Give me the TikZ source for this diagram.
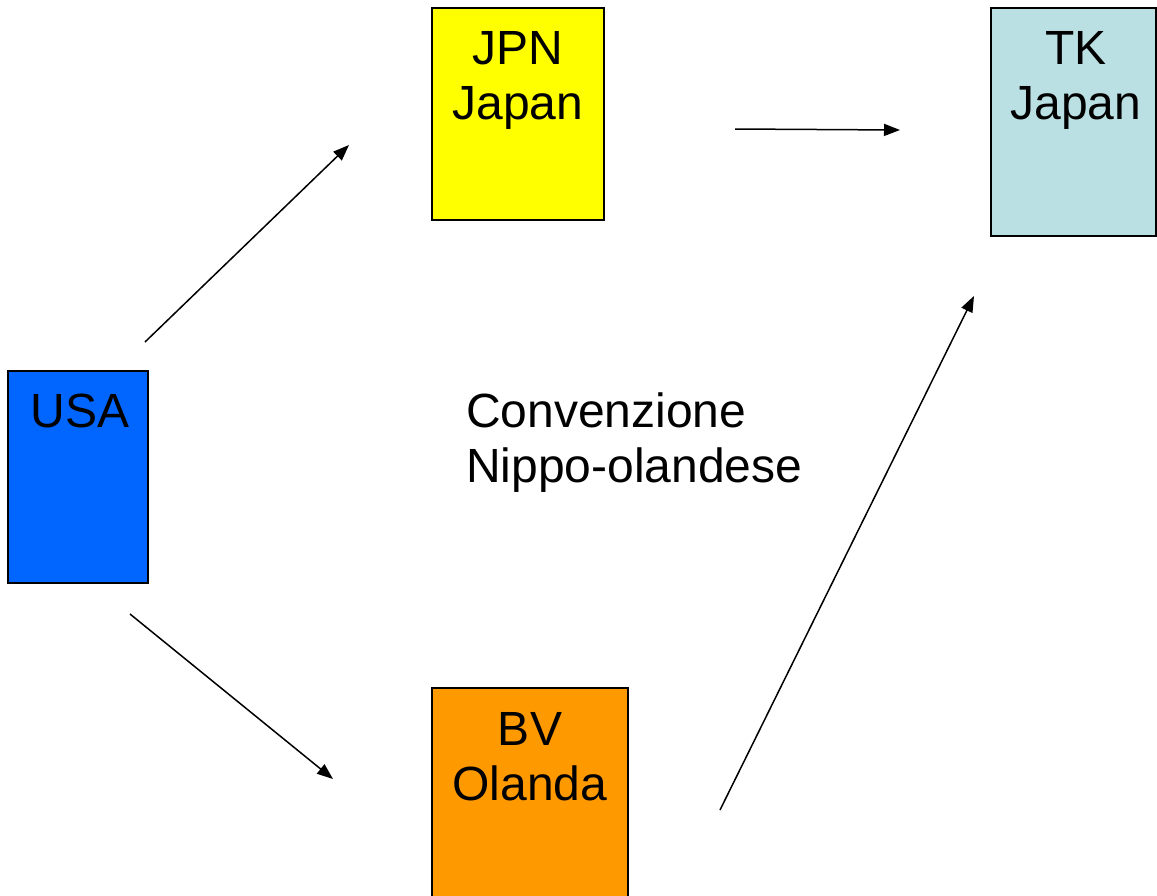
\documentclass[tikz,border=0pt]{standalone}
\usepackage{fontspec}
\setmainfont{Liberation Sans}
\usetikzlibrary{arrows.meta}
\definecolor{jpnyellow}{HTML}{FFFF00}
\definecolor{tkblue}{HTML}{BAE0E4}
\definecolor{usablue}{HTML}{0066FF}
\definecolor{bvorange}{HTML}{FF9900}
\begin{document}
\begin{tikzpicture}[x=1pt,y=-1pt,
  box/.style={draw=black,line width=1.3pt,inner sep=0pt,outer sep=0pt},
  lbl/.style={anchor=base,inner sep=0pt,font=\fontsize{48}{55}\selectfont},
  conn/.style={line width=1.5pt,-{Triangle[length=16pt,width=12pt]}}]
\useasboundingbox (0,0) rectangle (1157,895);
% boxes
\node[box,fill=jpnyellow,minimum width=172pt,minimum height=212pt] (jpn) at (518,114) {};
\node[box,fill=tkblue,minimum width=165pt,minimum height=228pt] (tk) at (1073.5,122) {};
\node[box,fill=usablue,minimum width=140pt,minimum height=212pt] (usa) at (78,477) {};
\node[box,fill=bvorange,minimum width=196pt,minimum height=230pt] (bv) at (530,803) {};
% labels
\node[lbl] (jpn1) at (518,64) {JPN};
\node[lbl] (jpn2) at (518,119) {Japan};
\node[lbl] (tk1) at (1076,64) {TK};
\node[lbl] (tk2) at (1076,119) {Japan};
\node[lbl] (usa1) at (80,427) {USA};
\node[lbl] (bv1) at (530,745) {BV};
\node[lbl] (bv2) at (530,800) {Olanda};
\node[lbl,anchor=base west] (conv1) at (466,427) {Convenzione};
\node[lbl,anchor=base west] (conv2) at (466,482) {Nippo-olandese};
% connector end points
\coordinate (a1) at (145,342);
\coordinate (a2) at (349,145);
\coordinate (b1) at (735,129);
\coordinate (b2) at (900,130);
\coordinate (c1) at (130,614);
\coordinate (c2) at (333,779);
\coordinate (d1) at (720,810);
\coordinate (d2) at (974,296);
\draw[conn] (a1) -- (a2);
\draw[conn] (b1) -- (b2);
\draw[conn] (c1) -- (c2);
\draw[conn] (d1) -- (d2);
\end{tikzpicture}
\end{document}
